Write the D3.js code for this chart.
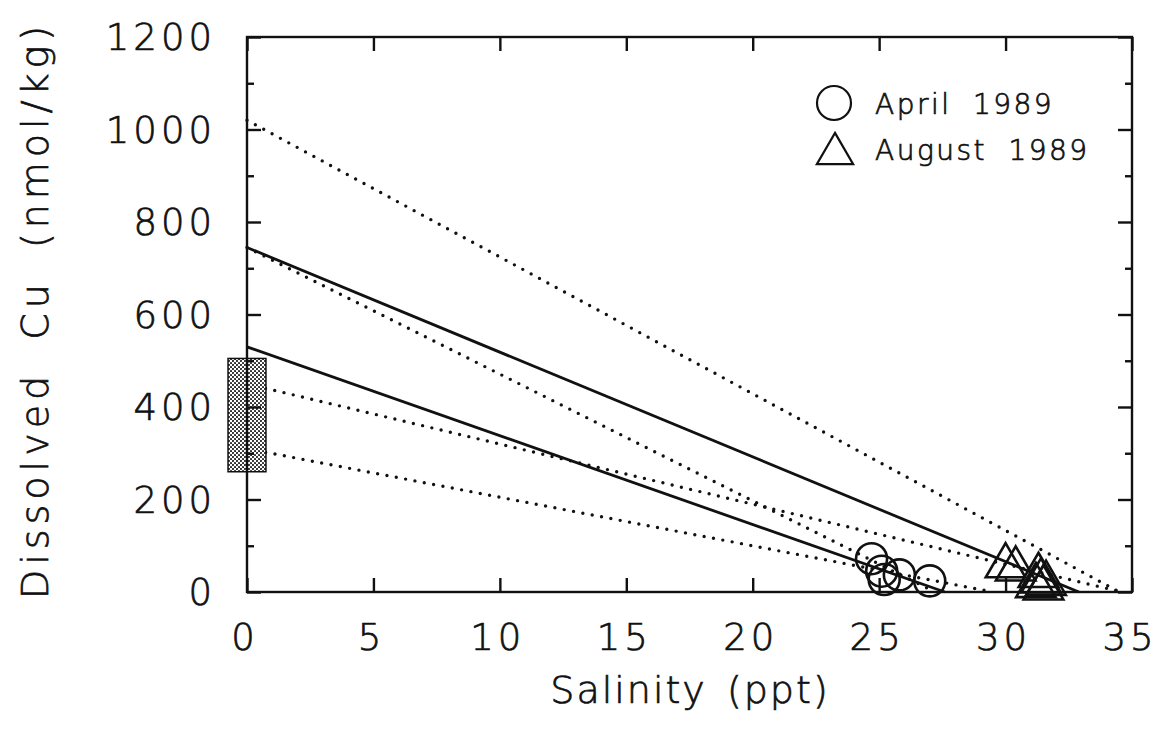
<!DOCTYPE html>
<html>
<head>
<meta charset="utf-8">
<script src="https://cdn.jsdelivr.net/npm/d3@7"></script>
<style>
  html, body { margin: 0; padding: 0; background: #ffffff; }
  svg { display: block; }
  text { font-family: "DejaVu Sans", sans-serif; font-weight: 200; fill: #111; stroke: #111; stroke-width: 0.7px; }
</style>
</head>
<body>
<svg id="chart" width="1167" height="749"></svg>
<script>
// Salinity ticks and Cu ticks
const salinityTicks = [0, 5, 10, 15, 20, 25, 30, 35];
const cuMajorTicks = [0, 200, 400, 600, 800, 1000, 1200];
const cuMinorTicks = [100, 300, 500, 700, 900, 1100];

// April 1989 samples (salinity, dissolved Cu)
const aprilSalinity = [24.7, 25.1, 25.2, 25.8, 27.0];
const aprilCu = [72, 45, 27, 37, 24];

// August 1989 samples
const augustSalinity = [30.0, 30.4, 31.3, 31.4, 31.2, 31.5, 31.6];
const augustCu = [63, 56, 42, 30, 20, 15, 25];

// Regression lines: Cu at zero salinity and salinity where Cu reaches zero
const solidIntercept = [745, 530];
const solidZeroSalinity = [32.9, 27.6];
const dottedIntercept = [1020, 745, 450, 310];
const dottedZeroSalinity = [34.5, 27.2, 34.6, 29.5];

// Measured river water range at zero salinity
const riverSalinityRange = [-0.75, 0.75];
const riverCuRange = [260, 505];

const legendLabels = ["April 1989", "August 1989"];

const svg = d3.select("#chart");
const plotLeft = 247, plotRight = 1132, plotTop = 37, plotBottom = 592;

const x = d3.scaleLinear().domain([0, 35]).range([plotLeft, plotRight]);
const y = d3.scaleLinear().domain([0, 1200]).range([plotBottom, plotTop]);

// stipple pattern for the river-water box
const defs = svg.append("defs");
const pat = defs.append("pattern")
  .attr("id", "stipple").attr("patternUnits", "userSpaceOnUse")
  .attr("width", 4).attr("height", 4);
pat.append("rect").attr("width", 4).attr("height", 4).attr("fill", "#fff");
pat.append("circle").attr("cx", 1).attr("cy", 1).attr("r", 1.05).attr("fill", "#222");
pat.append("circle").attr("cx", 3).attr("cy", 3).attr("r", 1.05).attr("fill", "#222");

// regression lines
const lineGen = d3.line().x(d => x(d[0])).y(d => y(d[1]));
dottedIntercept.forEach((c0, i) => {
  svg.append("path")
    .attr("d", lineGen([[0, c0], [dottedZeroSalinity[i], 0]]))
    .attr("fill", "none").attr("stroke", "#111")
    .attr("stroke-width", 3.4).attr("stroke-linecap", "round")
    .attr("stroke-dasharray", "0 9.5");
});
solidIntercept.forEach((c0, i) => {
  svg.append("path")
    .attr("d", lineGen([[0, c0], [solidZeroSalinity[i], 0]]))
    .attr("fill", "none").attr("stroke", "#111")
    .attr("stroke-width", 2.8);
});

// river box
svg.append("rect")
  .attr("x", x(riverSalinityRange[0]))
  .attr("y", y(riverCuRange[1]))
  .attr("width", x(riverSalinityRange[1]) - x(riverSalinityRange[0]))
  .attr("height", y(riverCuRange[0]) - y(riverCuRange[1]))
  .attr("fill", "url(#stipple)").attr("stroke", "#111").attr("stroke-width", 1.5);

// frame
svg.append("rect")
  .attr("x", plotLeft).attr("y", plotTop)
  .attr("width", plotRight - plotLeft).attr("height", plotBottom - plotTop)
  .attr("fill", "none").attr("stroke", "#111").attr("stroke-width", 2.4);

// ticks
function styleAxis(g) {
  g.select(".domain").remove();
  g.selectAll(".tick line").attr("stroke", "#111").attr("stroke-width", 2.4);
}
svg.append("g").attr("transform", `translate(0,${plotBottom})`)
  .call(d3.axisBottom(x).tickValues(salinityTicks).tickSize(-14).tickFormat(""))
  .call(styleAxis);
svg.append("g").attr("transform", `translate(0,${plotTop})`)
  .call(d3.axisTop(x).tickValues(salinityTicks).tickSize(-14).tickFormat(""))
  .call(styleAxis);
svg.append("g").attr("transform", `translate(${plotLeft},0)`)
  .call(d3.axisLeft(y).tickValues(cuMajorTicks).tickSize(-14).tickFormat(""))
  .call(styleAxis);
svg.append("g").attr("transform", `translate(${plotLeft},0)`)
  .call(d3.axisLeft(y).tickValues(cuMinorTicks).tickSize(-7).tickFormat(""))
  .call(styleAxis);
svg.append("g").attr("transform", `translate(${plotRight},0)`)
  .call(d3.axisRight(y).tickValues(cuMajorTicks).tickSize(-14).tickFormat(""))
  .call(styleAxis);
svg.append("g").attr("transform", `translate(${plotRight},0)`)
  .call(d3.axisRight(y).tickValues(cuMinorTicks).tickSize(-7).tickFormat(""))
  .call(styleAxis);

// tick labels
const labelSize = 37, labelSpacing = 4;
svg.append("g").selectAll("text").data(cuMajorTicks).join("text")
  .attr("x", 212 + labelSpacing).attr("y", d => y(d))
  .attr("dy", "0.36em").attr("text-anchor", "end")
  .attr("font-size", labelSize).attr("letter-spacing", labelSpacing)
  .text(d => d);
svg.append("g").selectAll("text").data(salinityTicks).join("text")
  .attr("x", d => x(d) - 4 + labelSpacing / 2).attr("y", 650)
  .attr("text-anchor", "middle")
  .attr("font-size", labelSize).attr("letter-spacing", labelSpacing)
  .text(d => d);

// axis titles
svg.append("text")
  .attr("transform", "translate(48,310) rotate(-90)")
  .attr("text-anchor", "middle")
  .attr("font-size", 38).attr("letter-spacing", 5).attr("word-spacing", 14)
  .text("Dissolved Cu (nmol/kg)");
svg.append("text")
  .attr("x", 690).attr("y", 703).attr("text-anchor", "middle")
  .attr("font-size", 38).attr("letter-spacing", 2).attr("word-spacing", 6)
  .text("Salinity (ppt)");

// data points
const triPath = s => `M0,${-s * 0.55}L${s * 0.55},${s * 0.4}L${-s * 0.55},${s * 0.4}Z`;
svg.append("g").selectAll("circle").data(aprilSalinity).join("circle")
  .attr("cx", d => x(d)).attr("cy", (d, i) => y(aprilCu[i])).attr("r", 15.5)
  .attr("fill", "none").attr("stroke", "#111").attr("stroke-width", 2.6);
svg.append("g").selectAll("path").data(augustSalinity).join("path")
  .attr("transform", (d, i) => `translate(${x(d)},${y(augustCu[i])})`)
  .attr("d", triPath(36))
  .attr("fill", "none").attr("stroke", "#111").attr("stroke-width", 2.6)
  .attr("stroke-linejoin", "miter");

// legend
const lg = svg.append("g");
lg.append("circle").attr("cx", 834).attr("cy", 103).attr("r", 17)
  .attr("fill", "none").attr("stroke", "#111").attr("stroke-width", 2.2);
lg.append("path").attr("transform", "translate(835,151)").attr("d", triPath(33))
  .attr("fill", "none").attr("stroke", "#111").attr("stroke-width", 2.2);
lg.selectAll("text").data(legendLabels).join("text")
  .attr("x", 875).attr("y", (d, i) => 114 + i * 46)
  .attr("font-size", 28).attr("letter-spacing", 2.5).attr("word-spacing", 10)
  .text(d => d);
</script>
</body>
</html>
